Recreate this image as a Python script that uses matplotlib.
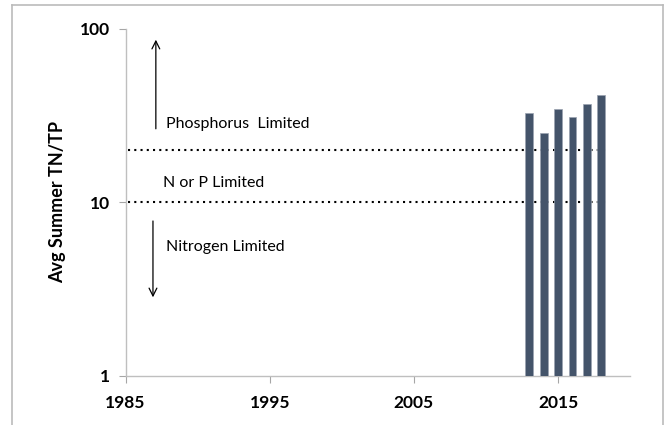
import matplotlib.pyplot as plt

# data
years = [2013, 2014, 2015, 2016, 2017, 2018]
tn_tp = [32.7, 25.2, 34.5, 31.0, 37.0, 41.7]
thresholds = [10, 20]
x_ticks = [1985, 1995, 2005, 2015]
y_ticks = [1, 10, 100]

plt.rcParams['font.family'] = ['Lato', 'DejaVu Sans']

fig = plt.figure(figsize=(6.69, 4.25), dpi=100)
ax = fig.add_axes([0.1877, 0.116, 0.7543, 0.8158])

ax.bar(years, tn_tp, width=0.55, color='#44546a', edgecolor='#9aa3b0', linewidth=0.5, zorder=3)

for t in thresholds:
    ax.plot([1985.2, 2018.3], [t, t], color='black', linewidth=1.5,
            linestyle=(0, (1, 2)), zorder=2)

ax.set_yscale('log')
ax.set_ylim(1, 100)
ax.set_xlim(1985, 2020)
ax.set_yticks(y_ticks)
ax.set_yticklabels([str(v) for v in y_ticks])
ax.minorticks_off()
ax.set_xticks(x_ticks)
ax.set_xticklabels([str(v) for v in x_ticks])

for lab in ax.get_xticklabels() + ax.get_yticklabels():
    lab.set_fontweight('bold')
    lab.set_fontsize(12.5)

ax.tick_params(axis='both', color='#a6a6a6', length=5, width=0.8)
ax.tick_params(axis='x', pad=9)
ax.tick_params(axis='y', pad=6)

for s in ['top', 'right']:
    ax.spines[s].set_visible(False)
for s in ['left', 'bottom']:
    ax.spines[s].set_color('#bfbfbf')
    ax.spines[s].set_linewidth(1.0)

ax.set_ylabel('Avg Summer TN/TP', fontsize=13, fontweight='bold', labelpad=10)

# arrows and region labels
ax.annotate('', xy=(1987.1, 90), xytext=(1987.1, 25.6),
            arrowprops=dict(arrowstyle='->', color='black', lw=0.9, mutation_scale=14))
ax.annotate('', xy=(1986.9, 2.73), xytext=(1986.9, 8.1),
            arrowprops=dict(arrowstyle='->', color='black', lw=0.9, mutation_scale=14))
ax.text(1987.8, 28.3, 'Phosphorus  Limited', fontsize=11.5, va='center', ha='left')
ax.text(1987.6, 13.0, 'N or P Limited', fontsize=11.5, va='center', ha='left')
ax.text(1987.8, 5.55, 'Nitrogen Limited', fontsize=11.5, va='center', ha='left')

# outer chart frame (no bottom edge visible)
fig.add_artist(plt.Line2D([11.5/669, 11.5/669], [0, 1 - 5/425], transform=fig.transFigure,
                          color='#bbbbbb', linewidth=1.2))
fig.add_artist(plt.Line2D([663/669, 663/669], [0, 1 - 5/425], transform=fig.transFigure,
                          color='#bbbbbb', linewidth=1.2))
fig.add_artist(plt.Line2D([11.5/669, 663/669], [1 - 5/425, 1 - 5/425], transform=fig.transFigure,
                          color='#bbbbbb', linewidth=1.2))

fig.savefig('out.png', dpi=100)
